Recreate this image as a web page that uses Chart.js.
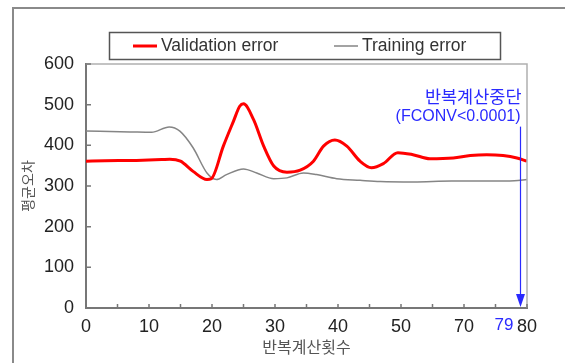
<!DOCTYPE html>
<html>
<head>
<meta charset="utf-8">
<script src="https://cdn.jsdelivr.net/npm/chart.js@4"></script>
<style>
  html, body { margin: 0; padding: 0; background: #fff; }
</style>
</head>
<body>
<canvas id="errChart" width="565" height="363"></canvas>
<script>
// x values are positions on the drawn axis (one label step = 10 units)
const tickLabels = ['0', '10', '20', '30', '40', '50', '70', '80'];

const validationX = [0, 3, 8, 12, 13.3, 15, 17, 19.2, 19.9, 21.8, 23.4, 24.4, 25, 26.6, 28.2, 29.8, 31.9, 34, 36.1, 37.7, 39.5, 41.4, 43.5, 45.3, 47.2, 49.5, 51.9, 54.6, 58.3, 61, 63.6, 66.2, 68.4, 70];
const validationY = [361, 362, 363, 365, 366, 361, 336, 316, 318, 398, 459, 496, 502, 463, 398, 349, 334, 339, 361, 398, 413, 398, 361, 345, 355, 382, 377, 367, 369, 375, 377, 375, 369, 361];

const trainingX = [0, 7, 10.4, 13.2, 14.9, 17, 19.2, 20.7, 22.3, 25, 27.1, 29.8, 31.9, 34.5, 36.6, 39.8, 43.5, 46.7, 52, 58, 64, 68, 70];
const trainingY = [435, 433, 432, 445, 435, 394, 332, 316, 328, 342, 332, 318, 320, 332, 328, 318, 314, 311, 310, 312, 312, 313, 316];

// stop of the iteration (label 79) and top of the marker line
const stopPos = 68.9;
const stopLabel = '79';
const stopTop = 446;
const stopNote = ['반복계산중단', '(FCONV<0.0001)'];

const FONT = '"Liberation Sans", Arial, "Noto Sans CJK KR", sans-serif';
const KFONT = '"Noto Sans CJK KR", "Liberation Sans", sans-serif';
const BLUE = '#2a2aff';

function toPoints(xs, ys) {
  return xs.map((x, i) => ({ x: x, y: ys[i] }));
}

// frame, inward ticks, legend box and the stop marker
const decor = {
  id: 'decor',
  beforeDraw(chart) {
    const ctx = chart.ctx;
    ctx.save();
    ctx.strokeStyle = '#8a8a8a';
    ctx.lineWidth = 2;
    ctx.beginPath();
    ctx.moveTo(13, 363);
    ctx.lineTo(13, 8);
    ctx.lineTo(565, 8);
    ctx.stroke();
    ctx.restore();
  },
  afterDraw(chart) {
    const ctx = chart.ctx;
    const area = chart.chartArea;
    const xs = chart.scales.x;
    const ys = chart.scales.y;
    ctx.save();

    // top and right edges of the plot
    ctx.strokeStyle = '#b0b0b0';
    ctx.lineWidth = 1.5;
    ctx.beginPath();
    ctx.moveTo(area.left, area.top);
    ctx.lineTo(area.right, area.top);
    ctx.lineTo(area.right, area.bottom);
    ctx.stroke();

    // inward tick marks
    ctx.strokeStyle = '#777';
    ctx.lineWidth = 1.5;
    ctx.beginPath();
    xs.ticks.forEach(t => {
      const px = xs.getPixelForValue(t.value);
      ctx.moveTo(px, area.bottom);
      ctx.lineTo(px, area.bottom - 4);
    });
    ys.ticks.forEach(t => {
      const py = ys.getPixelForValue(t.value);
      ctx.moveTo(area.left, py);
      ctx.lineTo(area.left + 5, py);
    });
    ctx.stroke();

    // stop marker
    const ax = Math.round(xs.getPixelForValue(stopPos)) + 0.5;
    const top = ys.getPixelForValue(stopTop);
    const tip = ys.getPixelForValue(0) - 1;
    ctx.strokeStyle = BLUE;
    ctx.fillStyle = BLUE;
    ctx.lineWidth = 1.2;
    ctx.beginPath();
    ctx.moveTo(ax, top);
    ctx.lineTo(ax, tip - 10);
    ctx.stroke();
    ctx.beginPath();
    ctx.moveTo(ax - 4.5, tip - 13);
    ctx.lineTo(ax + 4.5, tip - 13);
    ctx.lineTo(ax, tip);
    ctx.closePath();
    ctx.fill();

    ctx.textAlign = 'right';
    ctx.textBaseline = 'middle';
    ctx.font = '17.5px ' + KFONT;
    ctx.fillText(stopNote[0], ax + 1, top - 30);
    ctx.font = '16px ' + FONT;
    ctx.fillText(stopNote[1], ax, top - 10);
    ctx.font = '17px ' + FONT;
    ctx.fillText(stopLabel, ax - 7, area.bottom + 17);

    // legend
    ctx.strokeStyle = '#555';
    ctx.lineWidth = 1.5;
    ctx.strokeRect(109.5, 32.5, 391, 27);
    const itemX = [133, 334];
    ctx.textAlign = 'left';
    ctx.font = '17.5px ' + FONT;
    chart.data.datasets.forEach((ds, i) => {
      ctx.strokeStyle = ds.borderColor;
      ctx.lineWidth = ds.borderWidth;
      ctx.beginPath();
      ctx.moveTo(itemX[i], 46);
      ctx.lineTo(itemX[i] + 24, 46);
      ctx.stroke();
      ctx.fillStyle = '#333';
      ctx.fillText(ds.label, itemX[i] + 28, 46.5);
    });
    ctx.restore();
  }
};

new Chart(document.getElementById('errChart'), {
  type: 'line',
  data: {
    datasets: [
      {
        label: 'Validation error',
        data: toPoints(validationX, validationY),
        borderColor: '#ff0000',
        borderWidth: 3,
        pointRadius: 0,
        cubicInterpolationMode: 'monotone',
        fill: false
      },
      {
        label: 'Training error',
        data: toPoints(trainingX, trainingY),
        borderColor: '#858585',
        borderWidth: 1.5,
        pointRadius: 0,
        cubicInterpolationMode: 'monotone',
        fill: false
      }
    ]
  },
  options: {
    responsive: false,
    animation: false,
    layout: { padding: { left: 0, top: 64, right: 38, bottom: 0 } },
    plugins: {
      legend: { display: false },
      tooltip: { enabled: false }
    },
    scales: {
      x: {
        type: 'linear',
        min: 0,
        max: 70,
        afterFit: (s) => { s.height = 55; },
        ticks: {
          stepSize: 5,
          autoSkip: false,
          maxRotation: 0,
          padding: 8,
          color: '#222',
          font: { size: 18, family: FONT },
          callback: (v) => (v % 10 === 0 ? tickLabels[v / 10] : '')
        },
        grid: { display: false, drawTicks: false },
        border: { display: true, color: '#777', width: 2 },
        title: {
          display: true,
          text: '반복계산횟수',
          color: '#555',
          font: { size: 16, family: KFONT },
          padding: { top: 0, bottom: 6 }
        }
      },
      y: {
        min: 0,
        max: 600,
        afterFit: (s) => { s.width = 86; },
        ticks: {
          stepSize: 100,
          padding: 12,
          color: '#222',
          font: { size: 18, family: FONT }
        },
        grid: { display: false, drawTicks: false },
        border: { display: true, color: '#777', width: 2 },
        title: {
          display: true,
          text: '평균오차',
          color: '#555',
          font: { size: 14, family: KFONT },
          padding: { top: 19, bottom: 0 }
        }
      }
    }
  },
  plugins: [decor]
});
</script>
</body>
</html>
